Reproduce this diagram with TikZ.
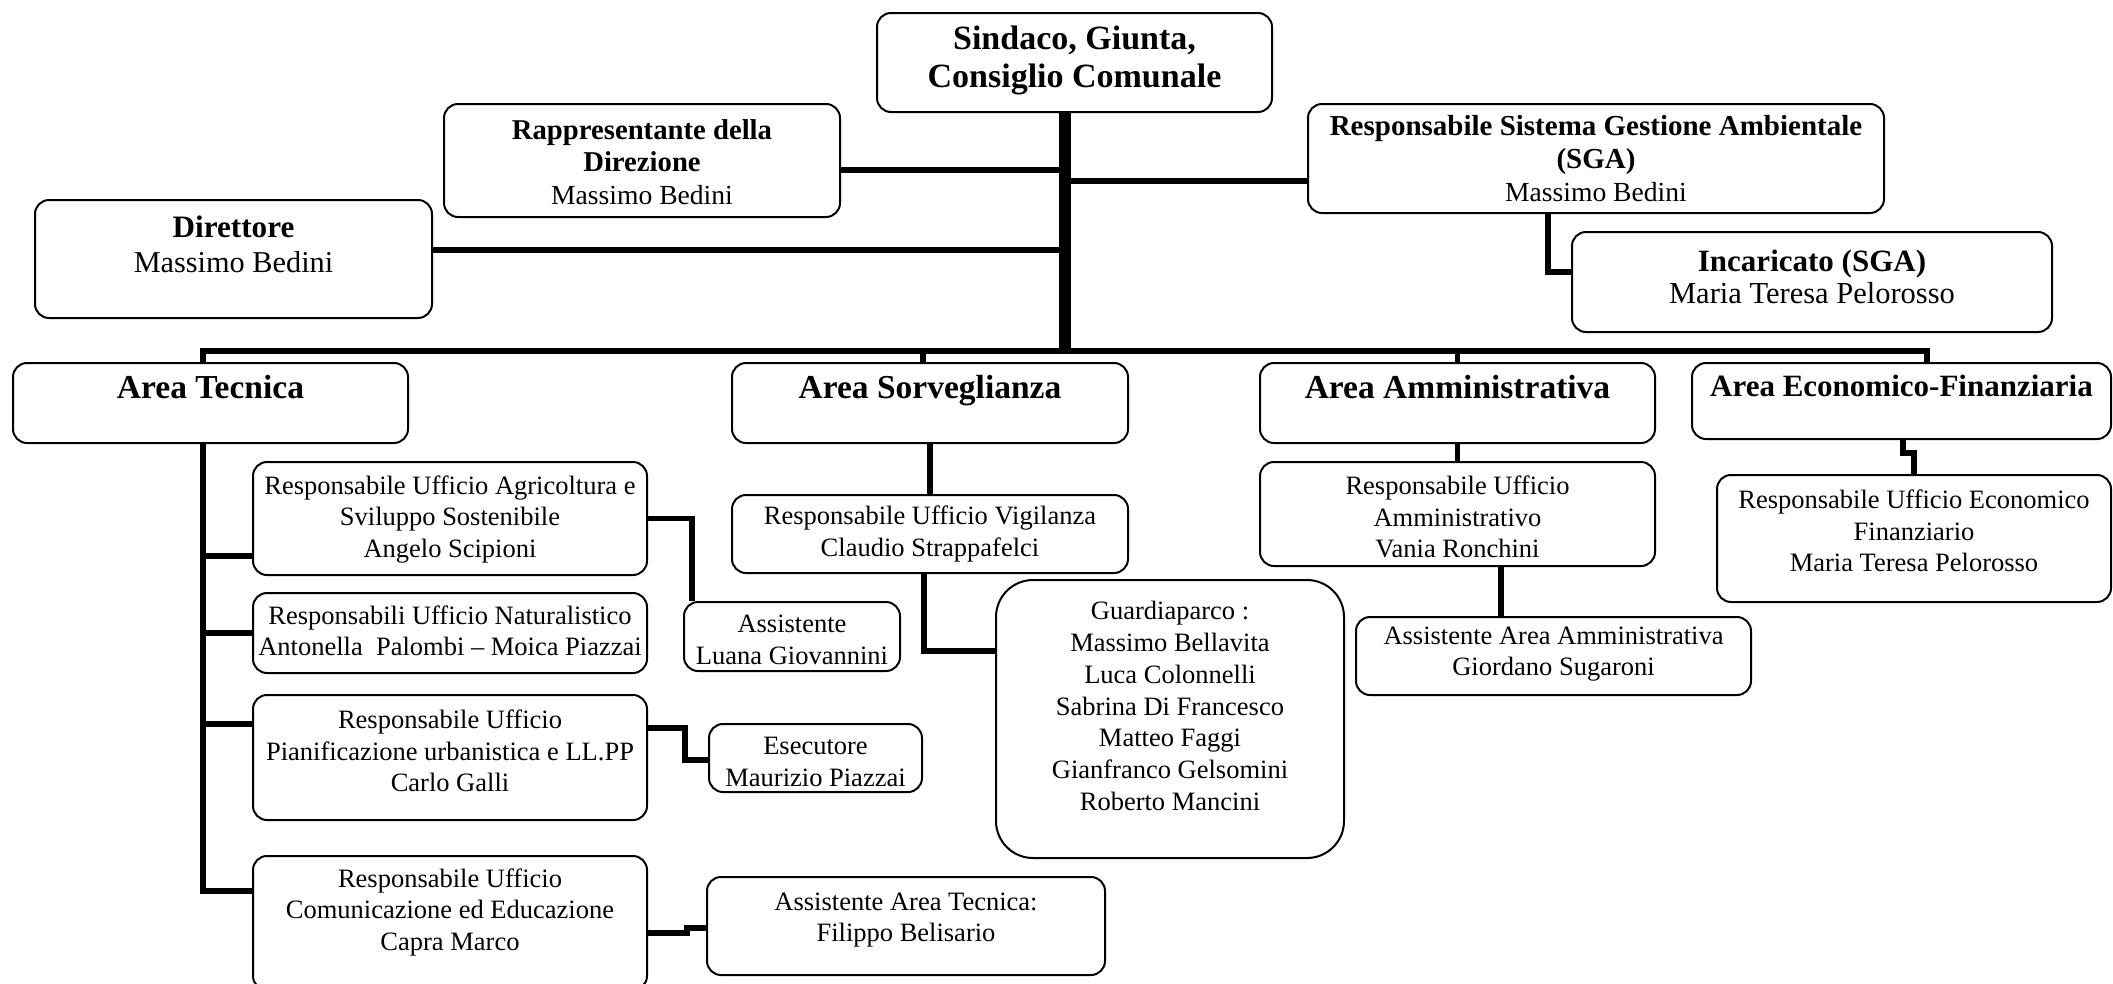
\documentclass[tikz,border=0pt]{standalone}
\usepackage{fontspec}
\setmainfont{Liberation Serif}
\newcommand{\myb}[2]{{\fontsize{#1}{#1}\selectfont\bfseries #2}}
\tikzset{
  box/.style={draw, line width=2pt, rounded corners=14pt, fill=white, inner sep=0pt},
  bigbox/.style={box, rounded corners=37pt},
  txt/.style={align=center, inner sep=0pt, font=\fontsize{26.5}{31.5}\selectfont},
  head/.style={align=center, inner sep=0pt, anchor=base, font=\fontsize{33.5}{38}\selectfont\bfseries},
  conn/.style={line width=5.5pt},
  trunkline/.style={line width=12pt},
}
\begin{document}
\begin{tikzpicture}[x=1pt,y=-1pt]
\fill[white] (0,0) rectangle (2113,983);
\useasboundingbox (0,0) rectangle (2113,983);

% ---------- boxes ----------
\node[box, minimum width=395pt, minimum height=99pt]  (sind)  at (1074.5,62.5) {};
\node[box, minimum width=396pt, minimum height=113pt] (rapp)  at (642,160.5) {};
\node[box, minimum width=397pt, minimum height=118pt] (dir)   at (233.5,259) {};
\node[box, minimum width=576pt, minimum height=109pt] (sga)   at (1596,158.5) {};
\node[box, minimum width=480pt, minimum height=100pt] (inc)   at (1812,282) {};
\node[box, minimum width=395pt, minimum height=80pt]  (at)    at (210.5,403) {};
\node[box, minimum width=396pt, minimum height=80pt]  (as)    at (930,403) {};
\node[box, minimum width=395pt, minimum height=80pt]  (aa)    at (1457.5,403) {};
\node[box, minimum width=419pt, minimum height=76pt]  (ae)    at (1901.5,401) {};
\node[box, minimum width=394pt, minimum height=113pt] (agr)   at (450,518.5) {};
\node[box, minimum width=394pt, minimum height=80pt]  (nat)   at (450,633) {};
\node[box, minimum width=394pt, minimum height=125pt] (pian)  at (450,757.5) {};
\node[box, minimum width=394pt, minimum height=134pt] (com)   at (450,923) {};
\node[box, minimum width=216pt, minimum height=69pt]  (assi)  at (792,636.5) {};
\node[box, minimum width=213pt, minimum height=68pt]  (ese)   at (815.5,758) {};
\node[box, minimum width=398pt, minimum height=98pt]  (assat) at (906,926) {};
\node[box, minimum width=396pt, minimum height=78pt]  (vig)   at (930,534) {};
\node[bigbox, minimum width=348pt, minimum height=278pt] (guard) at (1170,719) {};
\node[box, minimum width=395pt, minimum height=104pt] (amm)   at (1457.5,514) {};
\node[box, minimum width=395pt, minimum height=78pt]  (assam) at (1553.5,656) {};
\node[box, minimum width=394pt, minimum height=127pt] (eco)   at (1914,538.5) {};

% ---------- texts ----------
\node[align=center, inner sep=0pt, font=\fontsize{34}{38}\selectfont\bfseries] (sind-t) at (1074.5,60) {Sindaco, Giunta,\\Consiglio Comunale};
\node[txt, font=\fontsize{27.6}{32.5}\selectfont] (rapp-t) at (642,162)
  {\myb{28.7}{Rappresentante della}\\\myb{28.7}{Direzione}\\Massimo Bedini};
\node[txt, font=\fontsize{30.3}{35}\selectfont] (dir-t) at (233.5,244.5)
  {\myb{31.2}{Direttore}\\Massimo Bedini};
\node[txt, font=\fontsize{27.6}{33}\selectfont] (sga-t) at (1596,159)
  {\myb{29}{Responsabile Sistema Gestione Ambientale}\\\myb{29}{(SGA)}\\Massimo Bedini};
\node[txt, font=\fontsize{30.5}{32}\selectfont] (inc-t) at (1812,277)
  {\myb{31}{Incaricato (SGA)}\\Maria Teresa Pelorosso};
\node[head] (at-t) at (210.5,398) {Area Tecnica};
\node[head] (as-t) at (930,398) {Area Sorveglianza};
\node[head] (aa-t) at (1457.5,398) {Area Amministrativa};
\node[head, font=\fontsize{31}{36}\selectfont\bfseries] (ae-t) at (1901.5,396) {Area Economico-Finanziaria};
\node[txt] (agr-t) at (450,519.5) {Responsabile Ufficio Agricoltura e\\Sviluppo Sostenibile\\Angelo Scipioni};
\node[txt] (nat-t) at (450,631) {Responsabili Ufficio Naturalistico\\Antonella~ Palombi – Moica Piazzai};
\node[txt] (pian-t) at (450,751) {Responsabile Ufficio\\Pianificazione urbanistica e LL.PP\\Carlo Galli};
\node[txt] (com-t) at (450,912) {Responsabile Ufficio\\Comunicazione ed Educazione\\Capra Marco};
\node[txt] (assi-t) at (792,640) {Assistente\\Luana Giovannini};
\node[txt] (ese-t) at (815.5,762) {Esecutore\\Maurizio Piazzai};
\node[txt] (assat-t) at (906,920) {Assistente Area Tecnica:\\Filippo Belisario};
\node[txt] (vig-t) at (930,534) {Responsabile Ufficio Vigilanza\\Claudio Strappafelci};
\node[txt, font=\fontsize{26.5}{31.9}\selectfont] (guard-t) at (1170,706) {Guardiaparco :\\Massimo Bellavita\\Luca Colonnelli\\Sabrina Di Francesco\\Matteo Faggi\\Gianfranco Gelsomini\\Roberto Mancini};
\node[txt] (amm-t) at (1457.5,517) {Responsabile Ufficio\\Amministrativo\\Vania Ronchini};
\node[txt] (assam-t) at (1553.5,654) {Assistente Area Amministrativa\\Giordano Sugaroni};
\node[txt] (eco-t) at (1914,531) {Responsabile Ufficio Economico\\Finanziario\\Maria Teresa Pelorosso};

% ---------- connectors ----------
\coordinate (trk) at ([xshift=-9.5pt]sind.south);
\coordinate (busL) at ([xshift=-7.5pt]at.north |- 0,351);
\coordinate (busR) at ([xshift=25.5pt]ae.north |- 0,351);
\coordinate (atx) at ([xshift=-7.5pt]at.south);

\draw[trunkline] (trk) -- (trk |- 0,354);
\draw[conn] ([yshift=-9.5pt]rapp.east) -- ([yshift=-9.5pt]rapp.east -| trk);
\draw[conn] ([yshift=9pt]dir.east) -- ([yshift=9pt]dir.east -| trk);
\draw[conn] ([yshift=-22.5pt]sga.west) -- ([yshift=-22.5pt]sga.west -| trk);
\draw[conn] ([xshift=-48pt]sga.south) |- ([yshift=10pt]inc.west);

\draw[conn] ([xshift=-7.5pt]at.north) -- (busL) -- (busR) -- ([xshift=25.5pt]ae.north);
\draw[conn] ([xshift=-7pt]as.north) -- ([xshift=-7pt]as.north |- busL);
\draw[conn] (aa.north) -- (aa.north |- busL);

\draw[conn] (atx) |- ([yshift=32pt]com.west);
\draw[conn] ([yshift=-37.5pt]agr.west) -- ([yshift=-37.5pt]agr.west -| atx);
\draw[conn] (nat.west) -- (nat.west -| atx);
\draw[conn] ([yshift=33.5pt]pian.west) -- ([yshift=33.5pt]pian.west -| atx);

\draw[conn] (agr.east) -| ([xshift=-100pt]assi.north);
\draw[conn] ([yshift=29.5pt]pian.east) -- ++(37,0) |- ([yshift=-2pt]ese.west);
\draw[conn] ([yshift=-10pt]com.east) -- ++(39,0) |- ([yshift=-2pt]assat.west);

\draw[conn] (as.south) -- (vig.north);
\draw[conn] ([xshift=-6pt]vig.south) |- ([yshift=68pt]guard.west);

\draw[conn] (aa.south) -- (amm.north);
\draw[conn] ([xshift=43.5pt]amm.south) -- ([xshift=43.5pt]amm.south |- assam.north);

\draw[conn] ([xshift=1.5pt]ae.south) -- ++(0,13) -| (eco.north);
\end{tikzpicture}
\end{document}
